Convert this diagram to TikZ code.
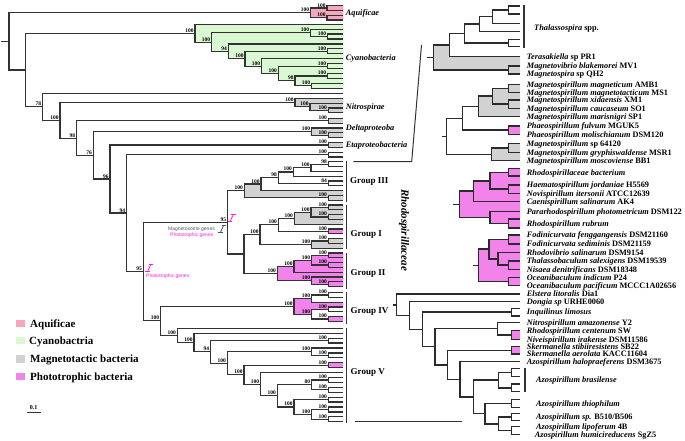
\documentclass[tikz,border=0pt]{standalone}
\usepackage{fontspec}
\setmainfont{Liberation Serif}
\newfontfamily\sansf{Liberation Sans}
\usetikzlibrary{calc}
\pgfdeclarelayer{bg}
\pgfsetlayers{bg,main}
\definecolor{treecol}{HTML}{333333}
\definecolor{aqpink}{HTML}{F5A8BC}
\definecolor{cygreen}{HTML}{DAF8D2}
\definecolor{mgray}{HTML}{D2D2D2}
\definecolor{ppink}{HTML}{F283EA}
\definecolor{genepink}{HTML}{F21DE8}
\definecolor{genegray}{HTML}{555555}
\tikzset{
 br/.style={draw=treecol, line width=1.2pt},
 bs/.style={anchor=south east, inner sep=0pt, xshift=-1.3pt, yshift=0.7pt, font=\fontsize{5.5}{5.5}\selectfont\bfseries},
 clab/.style={anchor=base west, inner sep=0pt, yshift=-2.8pt, font=\fontsize{8.3}{9}\selectfont\bfseries\itshape},
 tiplab/.style={anchor=base west, inner sep=0pt, xshift=6.7pt, yshift=-2.8pt, font=\fontsize{8.3}{9}\selectfont\bfseries},
 grp/.style={anchor=base west, inner sep=0pt, yshift=-3pt, font=\fontsize{9}{10}\selectfont\bfseries},
 brk/.style={draw=treecol, line width=1.1pt},
 conn/.style={draw=treecol, line width=1pt},
 leg/.style={anchor=base west, inner sep=0pt, yshift=-3.7pt, font=\fontsize{11}{12}\selectfont\bfseries},
 legbox/.style={minimum width=9pt, minimum height=7.3pt, inner sep=0pt},
 gtxt/.style={inner sep=0pt, font=\sansf\fontsize{5}{5}\selectfont},
}
\newcommand\tip[3]{\coordinate (#1) at (#2,#3);}
\newcommand\cl[5]{%
 \coordinate (#1-m) at ($(#3)!0.5!(#4)$);
 \coordinate (#1-x) at (#2,0);
 \coordinate (#1) at (#1-x |- #1-m);
 \draw[br] (#3) -- (#3 -| #1) -- (#4 -| #1) -- (#4);
 \node[bs] (#1-bs) at (#1) {#5};}
\newcommand\gicon[3]{\begin{scope}[shift={(#1,#2)}, color=#3, line width=0.8pt]
 \draw (3.5,0) -- (8,0); \draw (5.8,0) -- (2.6,7); \draw (0,7) -- (4.6,7);
 \end{scope}}
\def\TX{343.3}
\def\RX{520}
\begin{document}
\begin{tikzpicture}[x=1pt,y=-1pt]
\useasboundingbox (0,0) rectangle (685,441);
% ---------------- left tree tips ----------------
\tip{a1}{\TX}{5.7}\tip{a2}{\TX}{10.4}\tip{a3}{\TX}{15.2}\tip{a4}{\TX}{20.0}
\tip{c0}{\TX}{24.3}\tip{c1}{\TX}{29.2}\tip{c2}{\TX}{34.1}\tip{c3}{\TX}{39.1}
\tip{c4}{\TX}{44.0}\tip{c5}{\TX}{48.9}\tip{c6}{\TX}{53.8}\tip{c7}{\TX}{58.7}
\tip{c8}{\TX}{63.7}\tip{c9}{\TX}{68.6}\tip{c10}{\TX}{73.5}\tip{c11}{\TX}{78.4}
\tip{c12}{\TX}{83.4}\tip{c13}{\TX}{88.3}
\tip{n0}{\TX}{93.3}\tip{n1}{\TX}{98.5}\tip{n2}{\TX}{103.3}\tip{n3}{\TX}{108.1}\tip{n4}{\TX}{112.9}
\tip{d1}{\TX}{118.5}\tip{d2}{\TX}{123.3}
\tip{d3}{\TX}{128.1}\tip{d4}{\TX}{132.9}\tip{d5}{\TX}{137.7}
\tip{e1}{\TX}{142.5}\tip{e2}{\TX}{147.3}
\tip{w1}{\TX}{152.1}\tip{w2}{\TX}{156.9}
\tip{g1}{\TX}{161.7}\tip{g2}{\TX}{166.5}\tip{g3}{\TX}{171.3}\tip{g4}{\TX}{176.1}
\tip{g5}{\TX}{180.9}\tip{g6}{\TX}{185.7}\tip{g7}{\TX}{190.5}\tip{g8}{\TX}{195.3}\tip{g9}{\TX}{200.1}
\tip{h1}{\TX}{204.9}\tip{h2}{\TX}{209.7}\tip{h3}{\TX}{214.5}\tip{h4}{\TX}{219.3}\tip{h5}{\TX}{224.1}
\tip{h6}{\TX}{228.9}\tip{h7}{\TX}{233.7}\tip{h8}{\TX}{238.5}\tip{h9}{\TX}{243.3}\tip{h10}{\TX}{248.1}
\tip{k1}{\TX}{252.9}\tip{k2}{\TX}{257.7}\tip{k3}{\TX}{262.5}\tip{k4}{\TX}{267.3}
\tip{k5}{\TX}{272.1}\tip{k6}{\TX}{276.9}\tip{k7}{\TX}{281.7}\tip{k8}{\TX}{286.5}
\tip{q1}{\TX}{292.5}\tip{q2}{\TX}{297.3}\tip{q3}{\TX}{302.1}\tip{q4}{\TX}{306.9}
\tip{q5}{\TX}{311.7}\tip{q6}{\TX}{316.5}\tip{q7}{\TX}{321.3}
\tip{v0}{\TX}{328.3}\tip{v1}{\TX}{333.2}\tip{v2}{\TX}{338.1}\tip{v3}{\TX}{343.0}
\tip{v4}{\TX}{347.9}\tip{v5}{\TX}{352.9}\tip{v6}{\TX}{357.8}\tip{v7}{\TX}{362.7}
\tip{v8}{\TX}{367.6}\tip{v9}{\TX}{372.5}\tip{v10}{\TX}{377.5}\tip{v11}{\TX}{382.4}
\tip{v12}{\TX}{387.3}\tip{v13}{\TX}{392.2}\tip{v14}{\TX}{397.1}\tip{v15}{\TX}{402.0}
\tip{v16}{\TX}{406.9}\tip{v17}{\TX}{411.9}\tip{v18}{\TX}{416.8}\tip{v19}{\TX}{421.7}
% ---------------- left tree clades ----------------
\cl{Aq1}{327}{a1}{a2}{100}
\cl{Aq2}{327}{a3}{a4}{100}
\cl{Aq}{310.7}{Aq1}{Aq2}{100}
\cl{cyA2}{327.7}{c2}{c3}{100}
\cl{cyA}{310.7}{c1}{cyA2}{100}
\cl{cyB}{327.7}{c5}{c6}{100}
\cl{cyD}{327.7}{c8}{c9}{100}
\cl{cyE}{327.7}{c10}{c11}{100}
\cl{C7}{311.7}{c12}{c13}{100}
\cl{C6}{295}{cyE}{C7}{98}
\cl{C5}{278.3}{cyD}{C6}{100}
\cl{C4}{261.7}{c7}{C5}{100}
\cl{C3}{245}{cyB}{C4}{100}
\cl{C2}{228.3}{c4}{C3}{94}
\cl{C1}{211.7}{cyA}{C2}{100}
\cl{C0}{195}{c0}{C1}{100}
\cl{N3}{328.3}{n3}{n4}{100}
\cl{N2}{310}{n2}{N3}{100}
\cl{N1}{295}{n1}{N2}{100}
\cl{Dt1}{328.3}{d1}{d2}{100}
\cl{Dl2}{328.3}{d4}{d5}{100}
\cl{Dl}{311.7}{d3}{Dl2}{100}
\cl{Et}{328.3}{e1}{e2}{100}
\cl{W}{328.3}{w1}{w2}{100}
% Group III
\cl{G3f}{328.3}{g1}{g2}{98}
\cl{G3e}{311}{G3f}{g3}{100}
\cl{G3c}{293.3}{G3e}{g4}{100}
\cl{G3d}{328.3}{g5}{g6}{84}
\cl{G3b}{278.3}{G3c}{G3d}{98}
\cl{G3a}{261}{G3b}{g7}{100}
\cl{G3z}{328.3}{g8}{g9}{100}
\cl{G3}{244.3}{G3a}{G3z}{100}
% Group I
\cl{G1a}{328.3}{h1}{h2}{100}
\cl{G1c}{328.3}{h3}{h4}{100}
\cl{G1b}{311}{G1a}{G1c}{100}
\cl{G1d}{294.3}{G1b}{h5}{100}
\cl{G1e}{328.3}{h6}{h7}{100}
\cl{G1f}{278.3}{G1d}{G1e}{100}
\cl{G1g}{328.3}{h8}{h9}{100}
\cl{G1h}{311.7}{G1g}{h10}{100}
\cl{G1}{260}{G1f}{G1h}{100}
% Group II
\cl{G2a}{328.3}{k1}{k2}{100}
\cl{G2b}{328.3}{k3}{k4}{100}
\cl{G2c}{311.7}{G2a}{G2b}{100}
\cl{G2d}{294}{G2c}{k5}{100}
\cl{G2e}{328.3}{k7}{k8}{100}
\cl{G2f}{311.7}{k6}{G2e}{100}
\cl{G2}{277.3}{G2d}{G2f}{100}
% Group IV
\cl{G4b}{328.3}{q1}{q2}{100}
\cl{G4a}{311.7}{G4b}{q3}{100}
\cl{G4c}{328.3}{q4}{q5}{100}
\cl{G4e}{328.3}{q6}{q7}{100}
\cl{G4d}{311.7}{G4c}{G4e}{100}
\cl{G4}{294}{G4a}{G4d}{100}
% Group V
\cl{P}{328.3}{v2}{v3}{100}
\cl{R}{328.3}{v5}{v6}{100}
\cl{Q}{311.7}{v4}{R}{100}
\cl{S}{328.3}{v7}{v8}{100}
\cl{Z1}{328.3}{v10}{v11}{100}
\cl{Z2}{328.3}{v12}{v13}{100}
\cl{Y1}{311.7}{Z1}{Z2}{80}
\cl{Z3}{328.3}{v14}{v15}{100}
\cl{Z4}{328.3}{v16}{v17}{100}
\cl{Z5}{328.3}{v18}{v19}{100}
\cl{Y3}{311.7}{Z4}{Z5}{100}
\cl{Y2}{294}{Z3}{Y3}{100}
\cl{X4}{277.3}{Y1}{Y2}{100}
\cl{X3}{260.7}{v9}{X4}{100}
\cl{X2}{244}{S}{X3}{100}
\cl{X1}{227.3}{Q}{X2}{100}
\cl{X0}{210.7}{P}{X1}{94}
\cl{G5b}{194}{v1}{X0}{100}
\cl{G5}{177.3}{v0}{G5b}{100}
% backbone
\cl{G12}{244}{G1}{G2}{}
\cl{N95}{227.7}{G3}{G12}{95}
\cl{G45}{160.7}{G4}{G5}{100}
\cl{N143}{143.3}{N95}{G45}{95}
\cl{N126}{126.7}{W}{N143}{94}
\cl{N110}{110}{Et}{N126}{96}
\cl{N93}{93.3}{Dl}{N110}{76}
\cl{N77}{76.7}{Dt1}{N93}{98}
\cl{N60}{60}{N1}{N77}{100}
\cl{N43}{42.7}{n0}{N60}{78}
\cl{N26}{25.7}{C0}{N43}{}
\cl{Rt}{9}{Aq}{N26}{}
\coordinate (rs-x) at (1,0);
\draw[br] (rs-x |- Rt) -- (Rt);
% ---------------- right tree tips ----------------
\tikzset{br/.style={draw=treecol!85!black, line width=1.5pt}}
\tip{th1}{\RX}{6}\tip{th2}{\RX}{14}\tip{th3}{\RX}{23.3}\tip{th4}{\RX}{31.7}\tip{th5}{\RX}{39.3}\tip{th6}{\RX}{46.7}
\tip{ter}{\RX}{56.7}\tip{mv}{\RX}{66}\tip{msp}{\RX}{74}
\tip{mm1}{\RX}{84.3}\tip{mm2}{\RX}{92.3}\tip{mm3}{\RX}{100}\tip{mm4}{\RX}{108.3}\tip{mm5}{\RX}{116.7}
\tip{pf1}{\RX}{126}\tip{pf2}{\RX}{134.3}
\tip{ms1}{\RX}{143.3}\tip{ms2}{\RX}{152.3}\tip{ms3}{\RX}{160.7}
\tip{rb1}{\RX}{168.5}\tip{rb2}{\RX}{176.2}\tip{hj}{\RX}{185}\tip{nvi}{\RX}{193.3}\tip{cs}{\RX}{201.7}
\tip{pp}{\RX}{211.7}\tip{rr1}{\RX}{218.8}\tip{rr2}{\RX}{227.8}
\tip{ff}{\RX}{235}\tip{fs}{\RX}{244}\tip{rv}{\RX}{252.7}\tip{tsx}{\RX}{261}\tip{nd}{\RX}{269.3}
\tip{oi}{\RX}{277.3}\tip{op}{\RX}{285.7}
\tip{el}{\RX}{294}\tip{dg}{\RX}{301.7}\tip{iq1}{\RX}{308.3}\tip{iq2}{\RX}{316}
\tip{nam}{\RX}{322.3}\tip{rce}{\RX}{330.7}\tip{nir}{\RX}{339.3}\tip{ss}{\RX}{346.7}\tip{sa}{\RX}{354}
\tip{ah}{\RX}{361.7}\tip{ab1}{\RX}{368.3}\tip{ab2}{\RX}{376.7}\tip{ab3}{\RX}{384}\tip{ab4}{\RX}{391.7}
\tip{at1}{\RX}{399.3}\tip{at2}{\RX}{407.3}\tip{as1}{\RX}{413.3}\tip{as2}{\RX}{420.7}
\tip{al}{\RX}{426.7}\tip{ahu}{\RX}{434.3}
% ---------------- right tree clades ----------------
\cl{RTh1}{508.3}{th1}{th2}{}
\cl{RTh2}{492.7}{RTh1}{th3}{}
\cl{RTh3}{479.3}{RTh2}{th4}{}
\cl{RTh4}{508.3}{th5}{th6}{}
\cl{RTh5}{464.3}{RTh3}{RTh4}{}
\cl{RT2}{449.3}{RTh5}{ter}{}
\cl{RMM}{508.3}{mv}{msp}{}
\cl{RT1}{433.3}{RT2}{RMM}{}
\cl{RMg1}{508.3}{mm1}{mm2}{}
\cl{RMg2}{508.3}{mm3}{mm4}{}
\cl{RMg3}{492.7}{RMg1}{RMg2}{}
\cl{RMg4}{478.3}{RMg3}{mm5}{}
\cl{RPh}{508.3}{pf1}{pf2}{}
\cl{RMg5}{462.7}{RMg4}{RPh}{}
\cl{RMs1}{508.3}{ms1}{ms2}{}
\cl{RMs2}{491.7}{RMs1}{ms3}{}
\cl{RM}{446.7}{RMg5}{RMs2}{}
\cl{RRb}{508.3}{rb1}{rb2}{}
\cl{RHN}{508.3}{hj}{nvi}{}
\cl{RP1}{490}{RRb}{RHN}{}
\cl{RP2}{473.3}{RP1}{cs}{}
\cl{RRr}{508.3}{rr1}{rr2}{}
\cl{RP3}{490}{pp}{RRr}{}
\cl{RPR}{459.3}{RP2}{RP3}{}
\cl{RF1}{508.3}{ff}{fs}{}
\cl{RF2}{508.3}{tsx}{nd}{}
\cl{RF3}{498}{rv}{RF2}{}
\cl{RFa}{489}{RF1}{RF3}{}
\cl{ROc}{508.3}{oi}{op}{}
\cl{RFR}{478.3}{RFa}{ROc}{}
\cl{RInq}{511.7}{iq1}{iq2}{}
\cl{RRcNv}{511.7}{rce}{nir}{}
\cl{RL1}{497.3}{nam}{RRcNv}{}
\cl{RSk}{511.7}{ss}{sa}{}
\cl{RAb1}{511.7}{ab1}{ab2}{}
\cl{RAb2}{511.7}{ab3}{ab4}{}
\cl{RAb}{498.3}{RAb1}{RAb2}{}
\cl{RAth}{511.7}{at1}{at2}{}
\cl{RAsp}{511.7}{as1}{as2}{}
\cl{RAlh}{511.7}{al}{ahu}{}
\cl{RA1}{498.3}{RAsp}{RAlh}{}
\cl{RA2}{485}{RAth}{RA1}{}
\cl{RR6}{473.3}{RAb}{RA2}{}
\cl{RR5}{460}{ah}{RR6}{}
\cl{RR4}{447.3}{RSk}{RR5}{}
\cl{RR3}{435}{RL1}{RR4}{}
\cl{RR2}{422.7}{RInq}{RR3}{}
\cl{RR1}{409.3}{dg}{RR2}{}
\cl{RR0}{396.7}{el}{RR1}{}
\coordinate (st1) at (426.7,0); \draw[br] (st1 |- RT1) -- (RT1);
\coordinate (st2) at (441.7,0); \draw[br] (st2 |- RM) -- (RM);
\coordinate (st3) at (453.3,0); \draw[br] (st3 |- RPR) -- (RPR);
\coordinate (st4) at (473.3,0); \draw[br] (st4 |- RFR) -- (RFR);
\coordinate (st5) at (393.3,0); \draw[br] (st5 |- RR0) -- (RR0);
% ---------------- shading ----------------
\begin{pgfonlayer}{bg}
\fill[aqpink] (Aq|-Aq1) -- (Aq1) -- (Aq1|-a1) -- (a1) -- (a4) -- (Aq2|-a4) -- (Aq2) -- (Aq|-Aq2) -- cycle;
\fill[cygreen] (C0|-c0) -- (c0) -- (c13) -- (C7|-c13) -- (C7) -- (C6|-C7) -- (C6) -- (C5|-C6) -- (C5) -- (C4|-C5) -- (C4) -- (C3|-C4) -- (C3) -- (C2|-C3) -- (C2) -- (C1|-C2) -- (C1) -- (C0|-C1) -- cycle;
\fill[mgray] (N1|-n1) -- (n1) -- (n4) -- (N3|-n4) -- (N3) -- (N2|-N3) -- (N2) -- (N1|-N2) -- cycle;
\fill[mgray] (Dt1|-d1) -- (d1) -- (d2) -- (Dt1|-d2) -- cycle;
\fill[mgray] (Dl|-d3) -- (d3) -- (d5) -- (Dl2|-d5) -- (Dl2) -- (Dl|-Dl2) -- cycle;
\fill[mgray] (Et|-e1) -- (e1) -- (e2) -- (Et|-e2) -- cycle;
\fill[mgray] (G3|-G3a) -- (G3a) -- (G3a|-g7) -- (g7) -- (g9) -- (G3z|-g9) -- (G3z) -- (G3|-G3z) -- cycle;
\fill[mgray] (G1d|-G1b) -- (G1b) -- (G1b|-G1a) -- (G1a) -- (G1a|-h1) -- (h1) -- (h5) -- (G1d|-h5) -- cycle;
\fill[ppink] (G1e|-h6) -- (h6) -- (h7) -- (G1e|-h7) -- cycle;
\fill[mgray] (G1h|-G1g) -- (G1g) -- (G1g|-h8) -- (h8) -- (h10) -- (G1h|-h10) -- cycle;
\fill[ppink] (G2|-G2d) -- (G2d) -- (G2d|-G2c) -- (G2c) -- (G2c|-G2a) -- (G2a) -- (G2a|-k1) -- (k1) -- (k8) -- (G2e|-k8) -- (G2e) -- (G2f|-G2e) -- (G2f) -- (G2|-G2f) -- cycle;
\fill[ppink] (G4|-G4a) -- (G4a) -- (G4a|-q3) -- (q3) -- (q4) -- (G4c|-q4) -- (G4c) -- (G4d|-G4c) -- (G4d) -- (G4|-G4d) -- cycle;
\fill[ppink] (G4e|-q6) -- (q6) -- (q7) -- (G4e|-q7) -- cycle;
\fill[ppink] (S|-v7) -- (v7) -- (v8) -- (S|-v8) -- cycle;
% right
\fill[mgray] (RT1|-RT2) -- (RT2) -- (RT2|-ter) -- (ter) -- (msp) -- (RMM|-msp) -- (RMM) -- (RT1|-RMM) -- cycle;
\fill[mgray] (RMg4|-RMg3) -- (RMg3) -- (RMg3|-RMg1) -- (RMg1) -- (RMg1|-mm1) -- (mm1) -- (mm5) -- (RMg4|-mm5) -- cycle;
\fill[ppink] (RPh|-pf1) -- (pf1) -- (pf2) -- (RPh|-pf2) -- cycle;
\fill[mgray] (RMs2|-RMs1) -- (RMs1) -- (RMs1|-ms1) -- (ms1) -- (ms3) -- (RMs2|-ms3) -- cycle;
\fill[ppink] (RPR|-RP2) -- (RP2) -- (RP2|-RP1) -- (RP1) -- (RP1|-RRb) -- (RRb) -- (RRb|-rb1) -- (rb1) -- (rr2) -- (RRr|-rr2) -- (RRr) -- (RP3|-RRr) -- (RP3) -- (RPR|-RP3) -- cycle;
\fill[ppink] (RFR|-RFa) -- (RFa) -- (RFa|-RF1) -- (RF1) -- (RF1|-ff) -- (ff) -- (op) -- (ROc|-op) -- (ROc) -- (RFR|-ROc) -- cycle;
\fill[ppink] (RRcNv|-rce) -- (rce) -- (nir) -- (RRcNv|-nir) -- cycle;
\fill[ppink] (RSk|-ss) -- (ss) -- (sa) -- (RSk|-sa) -- cycle;
\end{pgfonlayer}
% ---------------- left labels ----------------
\node[clab] (lAq) at (345.7,12.8) {Aquificae};
\node[clab] (lCy) at (345.7,57.3) {Cyanobacteria};
\node[clab] (lNi) at (345.7,107) {Nitrospirae};
\node[clab] (lDe) at (345.7,127.7) {Deltaproteoba};
\node[clab] (lEt) at (345.7,145) {Etaproteobacteria};
% group brackets
\draw[brk] (346.7,160.5) -- (346.7,201.5);
\draw[brk] (346.7,204.5) -- (346.7,248.5);
\draw[brk] (346.7,252.5) -- (346.7,288.5);
\draw[brk] (346.7,292) -- (346.7,323.5);
\draw[brk] (346.7,327.5) -- (346.7,422.5);
\node[grp] (gIII) at (350,180.7) {Group III};
\node[grp] (gI) at (350.5,233.3) {Group I};
\node[grp] (gII) at (350.5,272.3) {Group II};
\node[grp] (gIV) at (350.5,310) {Group IV};
\node[grp] (gV) at (350.5,371.7) {Group V};
\node[rotate=-90, inner sep=0pt, font=\fontsize{11}{12}\selectfont\bfseries\itshape] (rhodo) at (404,230) {Rhodospirillaceae};
% connectors
\coordinate (cn1) at (353.3,161.7);
\coordinate (cn2) at (411.7,161.7);
\coordinate (cn3) at (421.5,45);
\draw[conn] (cn1) -- (cn2) -- (cn3);
\coordinate (cn4) at (355,421.7);
\coordinate (cn5) at (461.7,421.7);
\draw[conn] (cn4) -- (cn5);
% gene annotations
\gicon{227.5}{214.5}{genepink}
\gicon{218}{225}{genegray}
\node[gtxt, anchor=east, text=genegray] (mgg) at (215,229.3) {Magnetosome genes};
\node[gtxt, anchor=east, text=genepink] (pg1) at (213.5,235.7) {Phototrophic genes};
\gicon{145}{264.5}{genepink}
\node[gtxt, anchor=west, text=genepink] (pg2) at (146,276.7) {Phototrophic genes};
% ---------------- right labels ----------------
\draw[brk] (524,5) -- (524,48.3);
\draw[brk] (525,368.3) -- (525,391.7);
\node[tiplab, xshift=0pt] (lTh) at (527.3,27.3) {\itshape Thalassospira \upshape spp.};
\node[tiplab] (l1) at (ter) {\itshape Terasakiella \upshape sp PR1};
\node[tiplab] (l2) at (mv) {\itshape Magnetovibrio blakemorei \upshape MV1};
\node[tiplab] (l3) at (msp) {\itshape Magnetospira \upshape sp QH2};
\node[tiplab] (l4) at (mm1) {\itshape Magnetospirillum magneticum \upshape AMB1};
\node[tiplab] (l5) at (mm2) {\itshape Magnetospirillum magnetotacticum \upshape MS1};
\node[tiplab] (l6) at (mm3) {\itshape Magnetospirillum xidaensis \upshape XM1};
\node[tiplab] (l7) at (mm4) {\itshape Magnetospirillum caucaseum \upshape SO1};
\node[tiplab] (l8) at (mm5) {\itshape Magnetospirillum marisnigri \upshape SP1};
\node[tiplab] (l9) at (pf1) {\itshape Phaeospirillum fulvum \upshape MGUK5};
\node[tiplab] (l10) at (pf2) {\itshape Phaeospirillum molischianum \upshape DSM120};
\node[tiplab] (l11) at (ms1) {\itshape Magnetospirillum \upshape sp 64120};
\node[tiplab] (l12) at (ms2) {\itshape Magnetospirillum gryphiswaldense \upshape MSR1};
\node[tiplab] (l13) at (ms3) {\itshape Magnetospirillum moscoviense \upshape BB1};
\node[tiplab] (l14) at (RRb -| rb1) {\itshape Rhodospirillaceae bacterium};
\node[tiplab] (l15) at (hj) {\itshape Haematospirillum jordaniae \upshape H5569};
\node[tiplab] (l16) at (nvi) {\itshape Novispirillum itersonii \upshape ATCC12639};
\node[tiplab] (l17) at (cs) {\itshape Caenispirillum salinarum \upshape AK4};
\node[tiplab] (l18) at (pp) {\itshape Pararhodospirillum photometricum \upshape DSM122};
\node[tiplab] (l19) at (RRr -| rr1) {\itshape Rhodospirillum rubrum};
\node[tiplab] (l20) at (ff) {\itshape Fodinicurvata fenggangensis \upshape DSM21160};
\node[tiplab] (l21) at (fs) {\itshape Fodinicurvata sediminis \upshape DSM21159};
\node[tiplab] (l22) at (rv) {\itshape Rhodovibrio salinarum \upshape DSM9154};
\node[tiplab] (l23) at (tsx) {\itshape Thalassobaculum salexigens \upshape DSM19539};
\node[tiplab] (l24) at (nd) {\itshape Nisaea denitrificans \upshape DSM18348};
\node[tiplab] (l25) at (oi) {\itshape Oceanibaculum indicum \upshape P24};
\node[tiplab] (l26) at (op) {\itshape Oceanibaculum pacificum \upshape MCCC1A02656};
\node[tiplab] (l27) at (el) {\itshape Elstera litoralis \upshape Dia1};
\node[tiplab] (l28) at (dg) {\itshape Dongia sp \upshape URHE0060};
\node[tiplab] (l29) at (RInq -| iq1) {\itshape Inquilinus limosus};
\node[tiplab] (l30) at (nam) {\itshape Nitrospirillum amazonense \upshape Y2};
\node[tiplab] (l31) at (rce) {\itshape Rhodospirillum centenum \upshape SW};
\node[tiplab] (l32) at (nir) {\itshape Niveispirillum irakense \upshape DSM11586};
\node[tiplab] (l33) at (ss) {\itshape Skermanella stibiiresistens \upshape SB22};
\node[tiplab] (l34) at (sa) {\itshape Skermanella aerolata \upshape KACC11604};
\node[tiplab] (l35) at (ah) {\itshape Azospirillum halopraeferens \upshape DSM3675};
\node[tiplab, xshift=0pt] (l36) at (529.3,379.3) {\itshape Azospirillum brasilense};
\node[tiplab, xshift=9.3pt] (l37) at (RAth -| at1) {\itshape Azospirillum thiophilum};
\node[tiplab, xshift=9.3pt] (l38) at (RAsp -| as1) {\itshape Azospirillum sp. \upshape B510/B506};
\node[tiplab, xshift=9.3pt] (l39) at (al) {\itshape Azospirillum lipoferum \upshape 4B};
\node[tiplab, xshift=8pt] (l40) at (ahu) {\itshape Azospirillum humicireducens \upshape SgZ5};
% ---------------- legend ----------------
\node[legbox, fill=aqpink] (lg1) at (20.5,323.3) {};
\node[legbox, fill=cygreen] (lg2) at (20.5,340.7) {};
\node[legbox, fill=mgray] (lg3) at (20.5,359) {};
\node[legbox, fill=ppink] (lg4) at (20.5,376.7) {};
\node[leg] (lt1) at (30,323.3) {Aquificae};
\node[leg] (lt2) at (29,340.7) {Cyanobactria};
\node[leg] (lt3) at (30,359) {Magnetotactic bacteria};
\node[leg] (lt4) at (30,376.7) {Phototrophic bacteria};
\coordinate (sb1) at (26.7,412.3);
\coordinate (sb2) at (40.7,412.3);
\draw[treecol, line width=0.9pt] (sb1) -- (sb2);
\node[inner sep=0pt, anchor=south, font=\fontsize{6}{6}\selectfont\bfseries] (sbl) at (33.7,409.5) {0.1};
\end{tikzpicture}
\end{document}
